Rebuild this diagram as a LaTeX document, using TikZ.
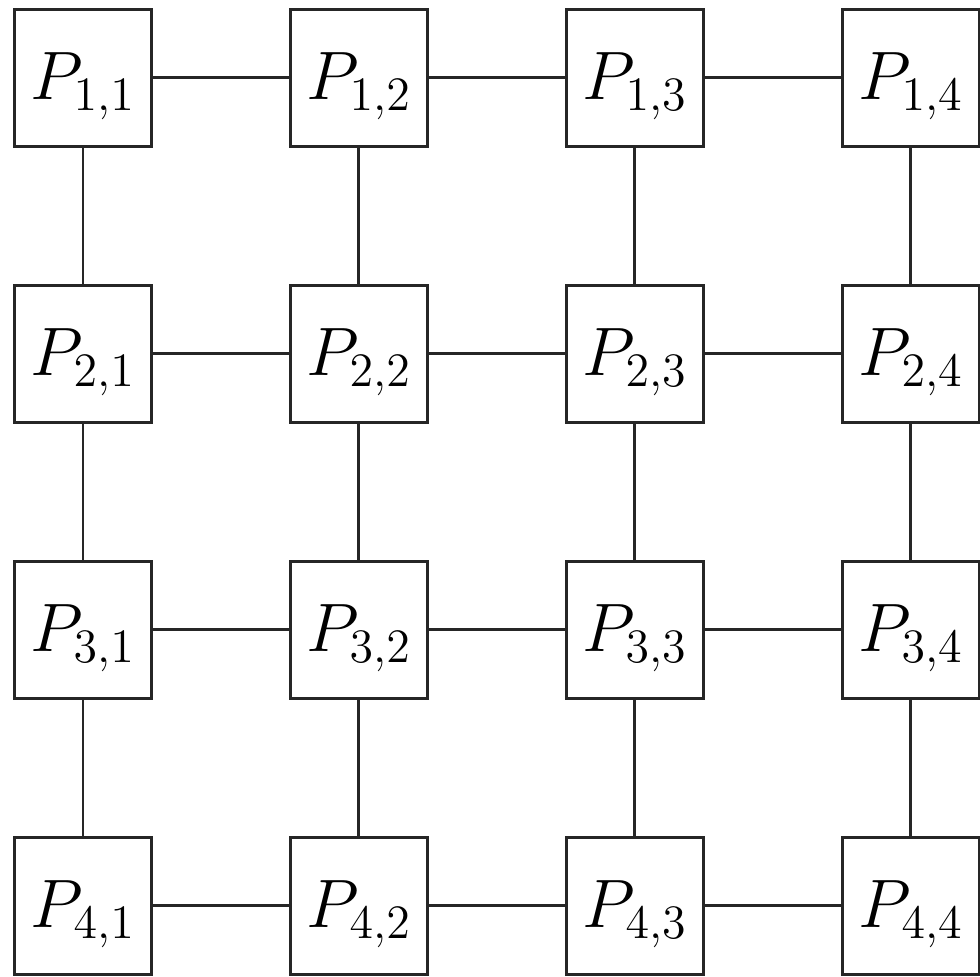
\RequirePackage{fix-cm}
\documentclass[tikz,border=0pt]{standalone}
\usepackage{amsmath,amsfonts,amssymb}
\usepackage{tikz}
\usetikzlibrary{positioning}
\usepackage{xcolor}

\begin{document}
\begin{tikzpicture}[
    node distance=1.36cm and 1.36cm,
    every node/.style={font=\fontsize{19.5}{24}\selectfont},
    pe/.style={rectangle, draw=black!85, line width=0.85pt, fill=white, minimum width=1.37cm, minimum height=1.37cm, inner sep=0pt, text height=0.56cm, text depth=0.12cm},
    link/.style={draw=black!85, line width=0.85pt}
  ]
  \useasboundingbox (0,0) rectangle (9.8,9.77);

  % first row
  \node[pe] (p11) at (0.83,8.99) {$P_{1,1}$};
  \node[pe, right=of p11] (p12) {$P_{1,2}$};
  \node[pe, right=of p12] (p13) {$P_{1,3}$};
  \node[pe, right=of p13] (p14) {$P_{1,4}$};

  % second row
  \node[pe, below=of p11] (p21) {$P_{2,1}$};
  \node[pe, right=of p21] (p22) {$P_{2,2}$};
  \node[pe, right=of p22] (p23) {$P_{2,3}$};
  \node[pe, right=of p23] (p24) {$P_{2,4}$};

  % third row
  \node[pe, below=of p21] (p31) {$P_{3,1}$};
  \node[pe, right=of p31] (p32) {$P_{3,2}$};
  \node[pe, right=of p32] (p33) {$P_{3,3}$};
  \node[pe, right=of p33] (p34) {$P_{3,4}$};

  % fourth row
  \node[pe, below=of p31] (p41) {$P_{4,1}$};
  \node[pe, right=of p41] (p42) {$P_{4,2}$};
  \node[pe, right=of p42] (p43) {$P_{4,3}$};
  \node[pe, right=of p43] (p44) {$P_{4,4}$};

  % horizontal links
  \draw[link] (p11) -- (p12);
  \draw[link] (p12) -- (p13);
  \draw[link] (p13) -- (p14);
  \draw[link] (p21) -- (p22);
  \draw[link] (p22) -- (p23);
  \draw[link] (p23) -- (p24);
  \draw[link] (p31) -- (p32);
  \draw[link] (p32) -- (p33);
  \draw[link] (p33) -- (p34);
  \draw[link] (p41) -- (p42);
  \draw[link] (p42) -- (p43);
  \draw[link] (p43) -- (p44);

  % vertical links
  \draw[link] (p11) -- (p21);
  \draw[link] (p21) -- (p31);
  \draw[link] (p31) -- (p41);
  \draw[link] (p12) -- (p22);
  \draw[link] (p22) -- (p32);
  \draw[link] (p32) -- (p42);
  \draw[link] (p13) -- (p23);
  \draw[link] (p23) -- (p33);
  \draw[link] (p33) -- (p43);
  \draw[link] (p14) -- (p24);
  \draw[link] (p24) -- (p34);
  \draw[link] (p34) -- (p44);

\end{tikzpicture}
\end{document}
